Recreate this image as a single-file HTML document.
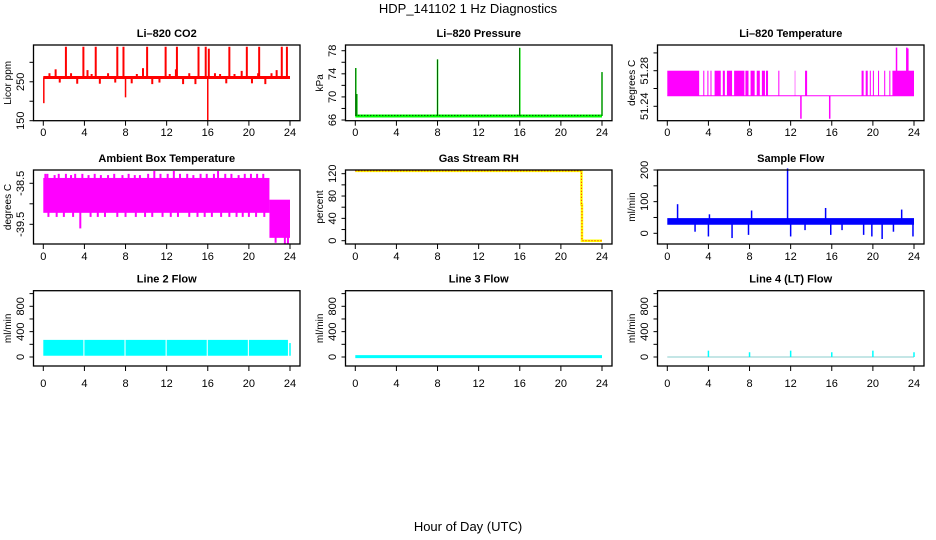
<!DOCTYPE html>
<html><head><meta charset="utf-8"><style>
html,body{margin:0;padding:0;background:#fff;}
svg{display:block;font-family:"Liberation Sans",Arial,sans-serif;}
</style></head><body>
<svg id="chart" width="936" height="540" viewBox="0 0 936 540" xmlns="http://www.w3.org/2000/svg">
<text x="468" y="13" text-anchor="middle" font-size="13">HDP_141102  1 Hz Diagnostics</text>
<text x="468" y="531" text-anchor="middle" font-size="13">Hour of Day (UTC)</text>
</svg>
<script>
const xTicks = [0,4,8,12,16,20,24];
// CO2
const co2Base = 261;
const co2SpikeHours = [2.2,3.9,5.1,7.2,7.8,10.1,11.9,13.0,15.1,15.8,16.1,18.1,19.8,21.0,23.2,23.7];
const co2SpikeVals = [340,340,340,340,340,340,340,340,340,340,335,340,340,340,340,340];
const co2SmallHours = [0.6,1.2,1.6,2.7,3.3,4.3,4.7,5.5,6.3,7.0,8.6,9.1,9.7,10.6,11.3,12.3,12.9,13.6,14.2,14.8,16.7,17.2,17.8,18.6,19.3,20.3,20.9,21.6,22.2,22.7];
const co2SmallVals = [272,282,248,272,245,280,270,245,272,248,246,270,285,244,248,270,282,244,272,244,272,270,246,270,278,246,272,244,272,280];
const co2DownHours = [0.05,8.0,16.0];
const co2DownVals = [195,210,150];
// Pressure
const presBase = 66.7;
const presSpikeHours = [0.05,0.15,8.0,16.0,24.0];
const presSpikeVals = [75.0,70.5,76.5,78.5,74.3];
// Li-820 temperature
const tempLow = 51.2519;
const tempHigh = 51.28;
const tempBandStart = [0,3.5,3.9,4.2,4.6,5.4,5.8,6.5,7.6,8.1,8.7,9.2,9.6,10.8,12.4,13.4,18.9,19.3,19.7,20.0,20.5,21.1,21.6,21.9];
const tempBandEnd =   [3.1,3.6,4.0,4.3,5.2,5.6,6.3,7.5,7.9,8.5,9.0,9.5,9.8,10.9,12.45,13.6,19.1,19.5,19.8,20.1,20.6,21.2,21.7,24.0];
const tempSpikeHours = [13.0,15.8,22.3,23.3,23.4];
const tempSpikeVals = [51.226,51.226,51.306,51.306,51.305];
// Ambient box temperature
const ambStart = [0,22];
const ambEnd = [22,24];
const ambHigh = [-38.37,-38.90];
const ambLow = [-39.22,-39.83];
const ambUpHours = [0.2,0.4,1.1,1.5,2.2,2.7,3.1,3.8,4.4,5.0,5.6,6.3,6.9,7.7,8.3,8.9,9.4,10.2,10.8,11.4,12.1,12.7,13.3,14.0,14.6,15.3,15.9,16.6,17.0,17.7,18.3,19.0,19.6,20.2,20.8,21.4];
const ambUpVals = [-38.27,-38.27,-38.3,-38.27,-38.27,-38.3,-38.27,-38.27,-38.3,-38.27,-38.3,-38.3,-38.27,-38.3,-38.27,-38.3,-38.3,-38.27,-38.2,-38.27,-38.27,-38.2,-38.27,-38.27,-38.3,-38.27,-38.27,-38.27,-38.2,-38.27,-38.27,-38.3,-38.27,-38.27,-38.27,-38.27];
const ambDownHours = [0.5,1.3,2.0,2.9,3.6,4.6,5.3,6.0,7.2,8.0,9.0,9.9,10.6,11.6,12.4,13.1,14.2,15.0,15.7,16.4,17.3,18.1,18.8,19.4,20.0,20.7,21.5,22.6,23.5,23.8];
const ambDownVals = [-39.32,-39.32,-39.32,-39.32,-39.6,-39.32,-39.32,-39.32,-39.32,-39.32,-39.32,-39.32,-39.32,-39.32,-39.32,-39.32,-39.32,-39.32,-39.32,-39.32,-39.32,-39.32,-39.32,-39.32,-39.32,-39.32,-39.32,-39.95,-39.98,-39.98];
// Gas stream RH
const rhHours = [0,22,22,22.05,22.05,24];
const rhVals = [125,125,65,65,0,0];
// Sample flow
const sfLow = 27;
const sfHigh = 48;
const sfSpikeHours = [1.0,2.7,4.0,4.1,6.3,7.9,8.2,11.7,12.0,13.4,15.4,15.9,17.0,19.1,19.9,20.9,22.0,22.8,23.9];
const sfSpikeVals = [92,5,-10,60,-15,-5,72,205,-10,10,80,-5,10,-5,-10,-18,5,75,-10];
// Line flows
const l2Start = [0,4.0,8.0,12.0,16.0,20.0];
const l2End = [3.9,7.9,11.9,15.9,19.9,23.8];
const l2Low = 20;
const l2High = 270;
const l3Val = 5;
const l4SpikeHours = [4,8,12,16,20,24];
const l4SpikeVals = [100,75,100,75,100,75];

const svg = document.getElementById('chart');
const NS = 'http://www.w3.org/2000/svg';
function mk(tag, attrs, parent){
  const e = document.createElementNS(NS, tag);
  for (const k in attrs) e.setAttribute(k, attrs[k]);
  (parent||svg).appendChild(e);
  return e;
}
const cols = [0,312,624];
const rows = [{T:45,B:120.7,L:136},{T:170,B:244,L:260},{T:290.7,B:366,L:387}];
function panel(name, title, ylab, col, row, ylim, ticks, labels){
  const g = mk('g',{});
  
  
  const ox = cols[col], r = rows[row];
  const L = ox+33.5, R = ox+300, x0 = ox+43.3, x24 = ox+290;
  const X = h => x0 + (x24-x0)*h/24;
  const Y = v => r.B - (r.B-r.T)*(v-ylim[0])/(ylim[1]-ylim[0]);
  const t = mk('text',{x:(L+R)/2,y:r.T-8,'text-anchor':'middle','font-size':11,'font-weight':'bold'},g);
  t.textContent = title;
  
  
  const yt = mk('text',{transform:`translate(${ox+11},${(r.T+r.B)/2}) rotate(-90)`,'text-anchor':'middle','font-size':10},g);
  yt.textContent = ylab;
  
  
  const plot = mk('g',{},g);
  
  
  ticks.forEach(v=>{
    const y = Y(v);
    mk('line',{x1:L-4,x2:L,y1:y,y2:y,stroke:'#000','stroke-width':1},g);
  });
  labels.forEach(v=>{
    const y = Y(v);
    const tl = mk('text',{transform:`translate(${ox+24},${y}) rotate(-90)`,'text-anchor':'middle','font-size':11},g);
    tl.textContent = String(v);
    
    
  });
  xTicks.forEach(h=>{
    mk('line',{x1:X(h),x2:X(h),y1:r.B,y2:r.B+5,stroke:'#000','stroke-width':1},g);
    const tl = mk('text',{x:X(h),y:r.L,'text-anchor':'middle','font-size':11},g);
    tl.textContent = String(h);
    
    
  });
  mk('rect',{x:L,y:r.T,width:R-L,height:r.B-r.T,fill:'none',stroke:'#000','stroke-width':1.3},g);
  return {X,Y,plot};
}
function vline(p,h,v1,v2,col,w){ mk('line',{x1:p.X(h),x2:p.X(h),y1:p.Y(v1),y2:p.Y(v2),stroke:col,'stroke-width':w||1},p.plot); }
function hline(p,h1,h2,v,col,w,dash){ const a={x1:p.X(h1),x2:p.X(h2),y1:p.Y(v),y2:p.Y(v),stroke:col,'stroke-width':w||1}; if(dash)a['stroke-dasharray']=dash; mk('line',a,p.plot); }
function band(p,h1,h2,lo,hi,col){ mk('rect',{x:p.X(h1),y:p.Y(hi),width:p.X(h2)-p.X(h1),height:p.Y(lo)-p.Y(hi),fill:col},p.plot); }

// CO2
let p = panel('co2-panel','Li\u2013820 CO2','Licor ppm',0,0,[150,344.5],[150,200,250,300],[150,250]);
hline(p,0,24,co2Base,'#f00',3);
co2SmallHours.forEach((h,i)=>vline(p,h,co2Base,co2SmallVals[i],'#f00',2));
co2SpikeHours.forEach((h,i)=>vline(p,h,co2Base,co2SpikeVals[i],'#f00',2));
co2DownHours.forEach((h,i)=>vline(p,h,co2Base,co2DownVals[i],'#f00',1.5));

// Pressure
p = panel('pressure-panel','Li\u2013820 Pressure','kPa',1,0,[65.88,78.99],[66,68,70,72,74,76,78],[66,70,74,78]);
hline(p,0,24,presBase,'#0f0',3);
hline(p,0,24,presBase+0.1,'#000',1,'1 2');
presSpikeHours.forEach((h,i)=>{vline(p,h,presBase,presSpikeVals[i],'#0f0',1.5);vline(p,h,presBase,presSpikeVals[i],'#000',0.6);});

// Temperature
p = panel('li820-temperature-panel','Li\u2013820 Temperature','degrees C',2,0,[51.2238,51.3089],[51.24,51.26,51.28,51.30],[51.24,51.28]);
hline(p,0,24,tempLow,'#f0f',1);
tempBandStart.forEach((s,i)=>band(p,s,tempBandEnd[i],tempLow,tempHigh,'#f0f'));
tempSpikeHours.forEach((h,i)=>vline(p,h,tempLow,tempSpikeVals[i],'#f0f',1.5));

// Ambient
p = panel('ambient-temperature-panel','Ambient Box Temperature','degrees C',0,1,[-39.98,-38.176],[-39.5,-39,-38.5],[-39.5,-38.5]);
ambStart.forEach((s,i)=>band(p,s,ambEnd[i],ambLow[i],ambHigh[i],'#f0f'));
ambUpHours.forEach((h,i)=>vline(p,h,-39.0,ambUpVals[i],'#f0f',2));
ambDownHours.forEach((h,i)=>vline(p,h,-39.0,ambDownVals[i],'#f0f',2));

// RH
p = panel('gas-stream-rh-panel','Gas Stream RH','percent',1,1,[-5.9,126.6],[0,20,40,60,80,100,120],[0,40,80,120]);
const rhPts = rhHours.map((h,i)=>p.X(h)+','+p.Y(rhVals[i])).join(' ');
mk('polyline',{points:rhPts,fill:'none',stroke:'#ff0','stroke-width':2.5},p.plot);
mk('polyline',{points:rhPts,fill:'none',stroke:'#f00','stroke-width':1,'stroke-dasharray':'1 2'},p.plot);

// Sample flow
p = panel('sample-flow-panel','Sample Flow','ml/min',2,1,[-33.8,200],[0,50,100,150,200],[0,100,200]);
band(p,0,24,sfLow,sfHigh,'#00f');
sfSpikeHours.forEach((h,i)=>vline(p,h,38,sfSpikeVals[i],'#00f',1.5));

// Line 2
const lt = [0,200,400,600,800,1000], ll=[0,400,800];
p = panel('line2-flow-panel','Line 2 Flow','ml/min',0,2,[-142,1046],lt,ll);
l2Start.forEach((s,i)=>band(p,s,l2End[i],l2Low,l2High,'#0ff'));
vline(p,24,l2Low,220,'#0ff',1.5);

// Line 3
p = panel('line3-flow-panel','Line 3 Flow','ml/min',1,2,[-142,1046],lt,ll);
hline(p,0,24,l3Val,'#0ff',3);

// Line 4
p = panel('line4-flow-panel','Line 4 (LT) Flow','ml/min',2,2,[-142,1046],lt,ll);
hline(p,0,24,0,'#8cc',1);
l4SpikeHours.forEach((h,i)=>vline(p,h,0,l4SpikeVals[i],'#0ff',1.5));
</script>
</body></html>
